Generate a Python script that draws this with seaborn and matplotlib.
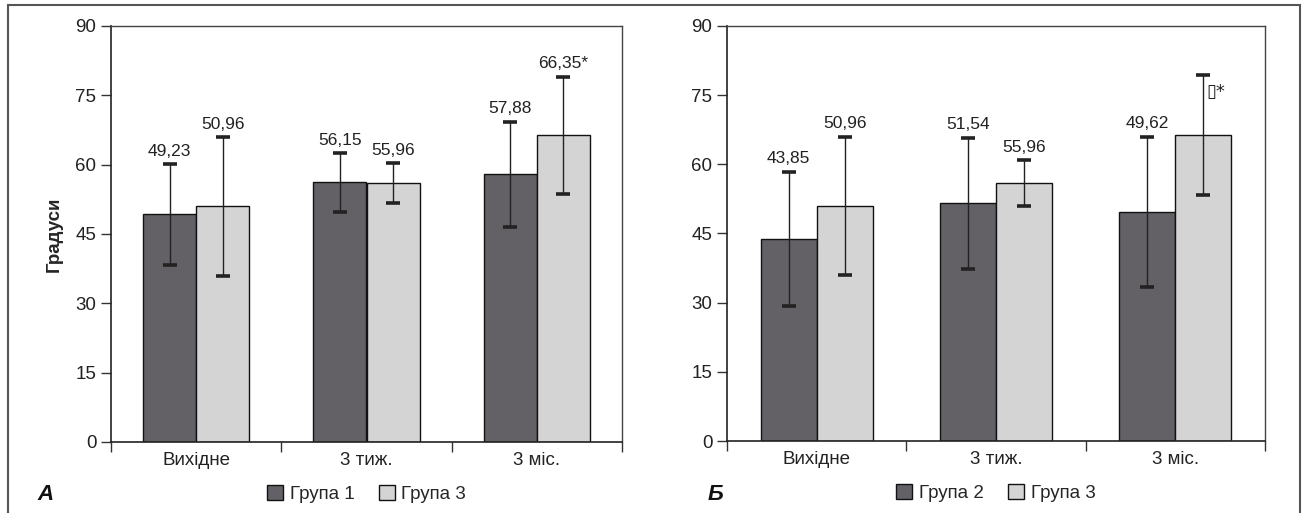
import matplotlib
matplotlib.use("Agg")
import matplotlib.pyplot as plt
import matplotlib.patches as mpatches
from matplotlib.ticker import FixedLocator, NullFormatter
import seaborn as sns
import pandas as pd

# ---------------- data ----------------
categories = ["Вихідне", "3 тиж.", "3 міс."]
yticks = [0, 15, 30, 45, 60, 75, 90]

a_groups = ["Група 1", "Група 3"]
a_g1 = [49.23, 56.15, 57.88]
a_g1_err = [10.9, 6.35, 11.4]
a_g3 = [50.96, 55.96, 66.35]
a_g3_err = [14.95, 4.3, 12.65]
a_g1_labels = ["49,23", "56,15", "57,88"]
a_g3_labels = ["50,96", "55,96", "66,35*"]

b_groups = ["Група 2", "Група 3"]
b_g2 = [43.85, 51.54, 49.62]
b_g2_err = [14.5, 14.2, 16.3]
b_g3 = [50.96, 55.96, 66.35]
b_g3_err = [15.0, 4.9, 13.0]
b_g2_labels = ["43,85", "51,54", "49,62"]
b_g3_labels = ["50,96", "55,96", ""]
b_side_note = "▯*"

dark = "#646166"
light = "#d4d4d4"

sns.set_theme(style="white")
plt.rcParams["font.family"] = ["Liberation Sans", "DejaVu Sans"]

W, H = 1303, 513
fig = plt.figure(figsize=(W / 100, H / 100), dpi=100)

TICK_FS = 13.5
VAL_FS = 12.5


def px_axes(left, top, right, bottom):
    return fig.add_axes([left / W, 1 - bottom / H, (right - left) / W, (bottom - top) / H])


def draw_panel(ax, groups, v1, e1, l1, v2, e2, l2, letter, letter_x, ylabel=None):
    df = pd.DataFrame({
        "cat": categories * 2,
        "grp": [groups[0]] * 3 + [groups[1]] * 3,
        "val": list(v1) + list(v2),
    })
    sns.barplot(data=df, x="cat", y="val", hue="grp", order=categories,
                hue_order=groups, palette=[dark, light], width=0.626,
                errorbar=None, edgecolor="#111111", linewidth=1.0,
                saturation=1, legend=False, ax=ax)
    bars = sorted(ax.patches, key=lambda p: p.get_x())
    xs = [p.get_x() + p.get_width() / 2 for p in bars]
    vals, errs, labs = [], [], []
    for i in range(3):
        vals += [v1[i], v2[i]]
        errs += [e1[i], e2[i]]
        labs += [l1[i], l2[i]]
    ax.errorbar(xs, vals, yerr=errs, fmt="none", ecolor="#222222",
                elinewidth=1.0, capsize=5.2, capthick=2.6, zorder=3)
    for x, v, e, t in zip(xs, vals, errs, labs):
        if t:
            ax.annotate(t, (x, v + e), xytext=(0, 4), textcoords="offset points",
                        ha="center", va="bottom", fontsize=VAL_FS, color="#222222")

    ax.set_ylim(0, 90)
    ax.set_xlim(-0.5, 2.5)
    ax.set_yticks(yticks)
    ax.set_yticklabels([str(t) for t in yticks], fontsize=TICK_FS, color="#222222")
    ax.tick_params(axis="y", direction="out", length=7.5, width=1.0,
                   color="#333333", pad=3, left=True)
    ax.xaxis.set_major_locator(FixedLocator([-0.5, 0.5, 1.5, 2.5]))
    ax.xaxis.set_major_formatter(NullFormatter())
    ax.xaxis.set_minor_locator(FixedLocator([0, 1, 2]))
    ax.set_xticklabels(categories, minor=True, fontsize=TICK_FS, color="#222222")
    ax.tick_params(axis="x", which="major", direction="out", length=7.5,
                   width=1.0, color="#333333", bottom=True)
    ax.tick_params(axis="x", which="minor", length=0, pad=7)
    for s in ["left", "bottom"]:
        ax.spines[s].set_color("#222222")
        ax.spines[s].set_linewidth(1.2)
    for s in ["top", "right"]:
        ax.spines[s].set_color("#444444")
        ax.spines[s].set_linewidth(1.0)
        ax.spines[s].set_visible(True)
    ax.set_xlabel("")
    if ylabel:
        ax.set_ylabel(ylabel, fontsize=13.5, fontweight="bold", labelpad=9)
    else:
        ax.set_ylabel("")

    handles = [mpatches.Patch(facecolor=dark, edgecolor="#111111", linewidth=1.0),
               mpatches.Patch(facecolor=light, edgecolor="#111111", linewidth=1.0)]
    ax.legend(handles, groups, loc="center", bbox_to_anchor=(0.5, -0.125),
              ncol=2, frameon=False, fontsize=TICK_FS, handlelength=0.85,
              handleheight=0.85, handletextpad=0.35, columnspacing=1.3,
              borderaxespad=0)
    fig.text(letter_x / W, 1 - 495 / H, letter, fontsize=16, fontweight="bold",
             fontstyle="italic", ha="left", va="center", color="#111111")
    return xs, vals, errs


axA = px_axes(111, 26, 622, 442)
draw_panel(axA, a_groups, a_g1, a_g1_err, a_g1_labels, a_g3, a_g3_err,
           a_g3_labels, "А", 37, ylabel="Градуси")

axB = px_axes(727, 26, 1265, 441)
xs, vals, errs = draw_panel(axB, b_groups, b_g2, b_g2_err, b_g2_labels, b_g3,
                            b_g3_err, b_g3_labels, "Б", 708)
axB.annotate(b_side_note, (xs[5], vals[5] + errs[5]), xytext=(2.5, -12),
             textcoords="offset points", ha="left", va="center",
             fontsize=13, color="#222222",
             family=["DejaVu Sans"])

# outer frame
fig.add_artist(mpatches.Rectangle((8 / W, -0.01), (1300 - 8) / W, 1 - 5 / H + 0.01,
                                  transform=fig.transFigure, fill=False,
                                  edgecolor="#555555", linewidth=1.5))

fig.savefig("out.png", dpi=100)
